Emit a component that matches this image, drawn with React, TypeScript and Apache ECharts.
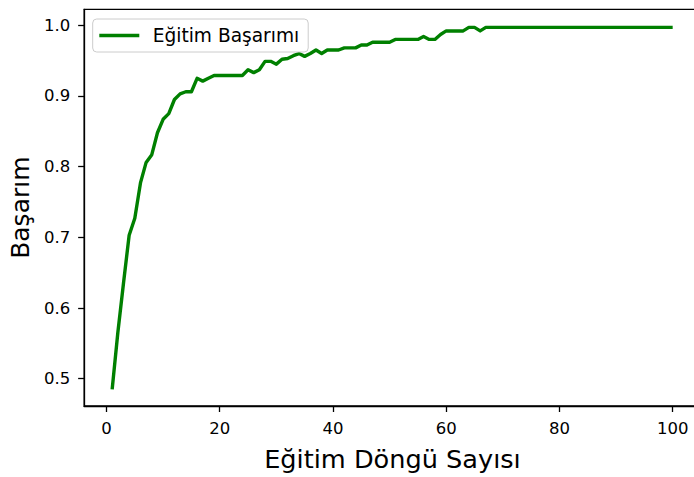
import React, { useEffect, useRef } from "react";
import * as echarts from "echarts";

const seriesName = "Eğitim Başarımı";
const xAxisTitle = "Eğitim Döngü Sayısı";
const yAxisTitle = "Başarım";
const xTicks = [0, 20, 40, 60, 80, 100];
const yTicks = [0.5, 0.6, 0.7, 0.8, 0.9, 1.0];
const accuracy = [
  0.485, 0.565, 0.635, 0.703, 0.727, 0.777, 0.806, 0.817, 0.848, 0.867,
  0.875, 0.895, 0.903, 0.906, 0.906, 0.925, 0.921, 0.925, 0.929, 0.929,
  0.929, 0.929, 0.929, 0.929, 0.937, 0.933, 0.937, 0.949, 0.949, 0.945,
  0.952, 0.953, 0.957, 0.96, 0.956, 0.96, 0.965, 0.96, 0.965, 0.965,
  0.965, 0.968, 0.968, 0.968, 0.972, 0.972, 0.976, 0.976, 0.976, 0.976,
  0.98, 0.98, 0.98, 0.98, 0.98, 0.984, 0.98, 0.98, 0.987, 0.992,
  0.992, 0.992, 0.992, 0.997, 0.997, 0.992, 0.997, 0.997, 0.997, 0.997,
  0.997, 0.997, 0.997, 0.997, 0.997, 0.997, 0.997, 0.997, 0.997, 0.997,
  0.997, 0.997, 0.997, 0.997, 0.997, 0.997, 0.997, 0.997, 0.997, 0.997,
  0.997, 0.997, 0.997, 0.997, 0.997, 0.997, 0.997, 0.997, 0.997, 0.997,
];

const FONT = "DejaVu Sans";

export default function App() {
  const ref = useRef<HTMLDivElement>(null);
  useEffect(() => {
    if (!ref.current) return;
    const chart = echarts.init(ref.current, null, { renderer: "svg" });
    const data = accuracy.map((v, i) => [i + 1, v]);
    chart.setOption({
      animation: false,
      backgroundColor: "#ffffff",
      textStyle: { fontFamily: FONT },
      grid: {
        left: 83.3,
        top: 9.3,
        width: 617.4,
        height: 400,
        show: true,
        borderColor: "#000",
        borderWidth: 1.3,
        containLabel: false,
      },
      legend: {
        show: true,
        left: 92.7,
        top: 19,
        orient: "horizontal",
        icon: "rect",
        itemWidth: 40,
        itemHeight: 3.4,
        itemGap: 13.4,
        padding: [7, 9, 7, 6.6],
        backgroundColor: "rgba(255,255,255,0.8)",
        borderColor: "#cccccc",
        borderWidth: 1,
        borderRadius: 4,
        textStyle: {
          fontFamily: FONT,
          fontSize: 18.6,
          lineHeight: 19,
          color: "#000",
          padding: [0, 0, 0, 8.4],
        },
        data: [{ name: seriesName, itemStyle: { color: "#008000" } }],
      },
      xAxis: {
        type: "value",
        min: -3.95,
        max: 104.95,
        name: xAxisTitle,
        nameLocation: "middle",
        nameGap: 40,
        nameTextStyle: { fontFamily: FONT, fontSize: 25.6, color: "#000" },
        axisLine: { show: true, onZero: false, lineStyle: { color: "#000", width: 1.3 } },
        axisTick: {
          show: true,
          length: 6,
          lineStyle: { color: "#000", width: 1.3 },
          customValues: xTicks,
        },
        axisLabel: {
          fontFamily: FONT,
          fontSize: 16.5,
          color: "#000",
          margin: 14,
          customValues: xTicks,
          formatter: (v: number) => String(v),
        },
        splitLine: { show: false },
      },
      yAxis: {
        type: "value",
        min: 0.4614,
        max: 1.0226,
        name: yAxisTitle,
        nameLocation: "middle",
        nameGap: 50,
        nameRotate: 90,
        nameTextStyle: { fontFamily: FONT, fontSize: 25, color: "#000" },
        axisLine: { show: true, onZero: false, lineStyle: { color: "#000", width: 1.3 } },
        axisTick: {
          show: true,
          length: 6,
          lineStyle: { color: "#000", width: 1.3 },
          customValues: yTicks,
        },
        axisLabel: {
          fontFamily: FONT,
          fontSize: 16.5,
          color: "#000",
          margin: 14,
          customValues: yTicks,
          formatter: (v: number) => v.toFixed(1),
        },
        splitLine: { show: false },
      },
      series: [
        {
          name: seriesName,
          type: "line",
          data,
          showSymbol: false,
          symbol: "none",
          lineStyle: { color: "#008000", width: 3.4, join: "round", cap: "butt" },
          itemStyle: { color: "#008000" },
        },
      ],
    });
    return () => chart.dispose();
  }, []);
  return (
    <div
      style={{
        position: "fixed",
        left: 0,
        top: 0,
        width: 694,
        height: 477,
        overflow: "hidden",
        background: "#fff",
      }}
    >
      <div ref={ref} style={{ width: 720, height: 477 }} />
    </div>
  );
}
